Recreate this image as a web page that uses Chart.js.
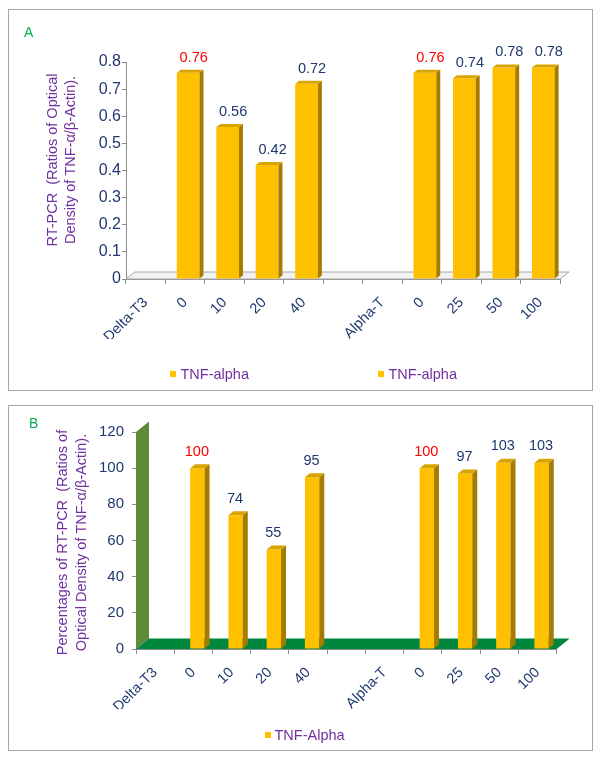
<!DOCTYPE html>
<html><head><meta charset="utf-8">
<script src="https://cdn.jsdelivr.net/npm/chart.js@4.4.1/dist/chart.umd.min.js"></script>
<style>
html,body{margin:0;padding:0;background:#fff;}
body{width:600px;height:759px;position:relative;overflow:hidden;font-family:'Liberation Sans',Arial,sans-serif;}
.panel{position:absolute;border:1px solid #a6a6a6;background:#fff;}
.panel canvas{position:absolute;left:0;top:0;}
.letter{position:absolute;color:#00b050;font-size:14px;line-height:14px;}
.lg-box{position:absolute;width:6px;height:6px;background:#ffc000;}
.lg-text{position:absolute;color:#7030a0;font-size:14.5px;line-height:14px;white-space:nowrap;}
</style></head><body>
<div class="panel" style="left:8px;top:9px;width:583px;height:380px;">
  <canvas id="cA" width="583" height="380"></canvas>
  <div class="letter" style="left:15px;top:15px;">A</div>
  <div class="lg-box" style="left:161px;top:361px;"></div>
  <div class="lg-text" id="lgA1" style="left:171.5px;top:357px;"></div>
  <div class="lg-box" style="left:368.5px;top:361px;"></div>
  <div class="lg-text" id="lgA2" style="left:379.5px;top:357px;"></div>
</div>
<div class="panel" style="left:8px;top:405px;width:583px;height:344px;">
  <canvas id="cB" width="583" height="344"></canvas>
  <div class="letter" style="left:20px;top:10px;">B</div>
  <div class="lg-box" style="left:255.5px;top:326px;"></div>
  <div class="lg-text" id="lgB" style="left:265.5px;top:321.5px;"></div>
</div>
<script>
// ---------- data ----------
const categories = ['Delta-T3','0','10','20','40','','Alpha-T','0','25','50','100'];
const ratioDelta = [null,0.76,0.56,0.42,0.72,null,null,null,null,null,null];
const ratioAlpha = [null,null,null,null,null,null,null,0.76,0.74,0.78,0.78];
const percentValues = [null,100,74,55,95,null,null,100,97,103,103];
const ticksA = {min:0, max:0.8, step:0.1};
const ticksB = {min:0, max:120, step:20};
const seriesA = ['TNF-alpha','TNF-alpha'];
const seriesB = 'TNF-Alpha';
const controlLabel = '0';
const titleA = ['RT-PCR  (Ratios of Optical','Density of TNF-\u03b1/\u03b2-Actin).'];
const titleB = ['Percentages of RT-PCR  (Ratios of','Optical Density of TNF-\u03b1/\u03b2-Actin).'];

document.getElementById('lgA1').textContent = seriesA[0];
document.getElementById('lgA2').textContent = seriesA[1];
document.getElementById('lgB').textContent = seriesB;

const FONT = "'Liberation Sans', Arial, sans-serif";
const NAVY = '#1f3870';
const AXIS = '#8c8c8c';
const BAR = '#ffc000';

const threeD = {
  id:'threeD',
  beforeDatasetsDraw(chart, args, o){
    const ctx = chart.ctx, a = chart.chartArea;
    ctx.save();
    if (o.wall){
      ctx.fillStyle = o.wall;
      ctx.beginPath();
      ctx.moveTo(a.left, a.bottom);
      ctx.lineTo(a.left, a.top);
      ctx.lineTo(a.left + o.dx, a.top - o.dy);
      ctx.lineTo(a.left + o.dx, a.bottom - o.dy);
      ctx.closePath(); ctx.fill();
    }
    ctx.fillStyle = o.floor;
    ctx.beginPath();
    ctx.moveTo(a.left, a.bottom);
    ctx.lineTo(a.left + o.dx, a.bottom - o.dy);
    ctx.lineTo(a.right + o.dx, a.bottom - o.dy);
    ctx.lineTo(a.right, a.bottom);
    ctx.closePath(); ctx.fill();
    if (o.floorStroke){ ctx.strokeStyle = o.floorStroke; ctx.lineWidth = 1; ctx.stroke(); }
    ctx.restore();
    ctx.save();
    ctx.translate(o.shift, 0);
  },
  afterDatasetsDraw(chart, args, o){
    const ctx = chart.ctx;
    const items = [];
    chart.data.datasets.forEach((ds, i) => {
      const meta = chart.getDatasetMeta(i);
      meta.data.forEach((bar, j) => {
        const v = ds.data[j];
        if (v == null) return;
        const p = bar.getProps(['x','y','base','width'], true);
        const l = p.x - p.width/2, r = p.x + p.width/2;
        ctx.fillStyle = o.side;
        ctx.beginPath();
        ctx.moveTo(r, p.y); ctx.lineTo(r + o.bdx, p.y - o.bdy);
        ctx.lineTo(r + o.bdx, p.base - o.bdy); ctx.lineTo(r, p.base);
        ctx.closePath(); ctx.fill();
        ctx.fillStyle = o.top;
        ctx.beginPath();
        ctx.moveTo(l, p.y); ctx.lineTo(l + o.bdx, p.y - o.bdy);
        ctx.lineTo(r + o.bdx, p.y - o.bdy); ctx.lineTo(r, p.y);
        ctx.closePath(); ctx.fill();
        items.push({x:p.x, y:p.y, v, red: chart.data.labels[j] === controlLabel});
      });
    });
    ctx.restore();
    ctx.save();
    ctx.font = '14.5px ' + FONT;
    ctx.textAlign = 'center'; ctx.textBaseline = 'middle';
    items.forEach(it => {
      ctx.fillStyle = it.red ? '#ff0000' : NAVY;
      ctx.fillText(o.format(it.v), it.x + o.labelDx, it.y - o.labelDy);
    });
    ctx.fillStyle = '#7030a0';
    ctx.font = '14.5px ' + FONT;
    o.title.forEach((line, k) => {
      ctx.save();
      ctx.translate(o.titleX[k], o.titleY);
      ctx.rotate(-Math.PI/2);
      ctx.fillText(line, 0, 0);
      ctx.restore();
    });
    ctx.restore();
  }
};

function makeChart(id, datasets, tk, cfg){
  datasets.forEach(d => {
    d.backgroundColor = BAR; d.borderWidth = 0; d.grouped = false;
    d.categoryPercentage = 1; d.barPercentage = cfg.barPct;
  });
  return new Chart(document.getElementById(id), {
    type:'bar',
    data:{labels:categories, datasets},
    options:{
      responsive:false, animation:false,
      layout:{padding:cfg.padding},
      plugins:{legend:{display:false}, tooltip:{enabled:false}, threeD:cfg.threeD},
      scales:{
        x:{offset:true,
           ticks:{minRotation:45, maxRotation:45, autoSkip:false, color:NAVY, font:{family:FONT, size:14.5}, padding:10},
           grid:{offset:true, drawOnChartArea:false, drawTicks:true, tickLength:5, color:AXIS},
           border:{display:true, color:AXIS},
           afterFit(s){ s.height = 60; }},
        y:{min:tk.min, max:tk.max,
           ticks:{stepSize:tk.step, color:NAVY, font:{family:FONT, size:cfg.yFont}, padding:cfg.yPad},
           grid:{drawOnChartArea:false, drawTicks:true, tickLength:4, color:AXIS},
           border:{display:true, color:AXIS},
           afterFit(s){ s.width = cfg.yWidth; }}
      }
    },
    plugins:[threeD]
  });
}

makeChart('cA', [
  {label:seriesA[0], data:ratioDelta},
  {label:seriesA[1], data:ratioAlpha}
], ticksA, {
  padding:{left:10, right:32, top:52, bottom:51},
  yWidth:107, barPct:0.575, yFont:16, yPad:1,
  threeD:{dx:9, dy:7, floor:'#f3f3f3', floorStroke:'#a6a6a6', wall:null, shift:3,
          side:'#a67c00', top:'#d9a400', bdx:4, bdy:3,
          labelDx:8.5, labelDy:15, format:v=>v.toFixed(2),
          title:titleA, titleX:[43.5, 61.5], titleY:150}
});

makeChart('cB', [
  {label:seriesB, data:percentValues}
], ticksB, {
  padding:{left:10, right:35.3, top:26, bottom:41},
  yWidth:117, barPct:0.375, yFont:15, yPad:8,
  threeD:{dx:13, dy:10.5, floor:'#00873e', floorStroke:null, wall:'#5f8a3a', shift:4,
          side:'#a67c00', top:'#d9a400', bdx:5, bdy:4,
          labelDx:3.5, labelDy:16.5, format:v=>String(Math.round(v)),
          title:titleB, titleX:[54, 72.7], titleY:136.5}
});
</script>
</body></html>
